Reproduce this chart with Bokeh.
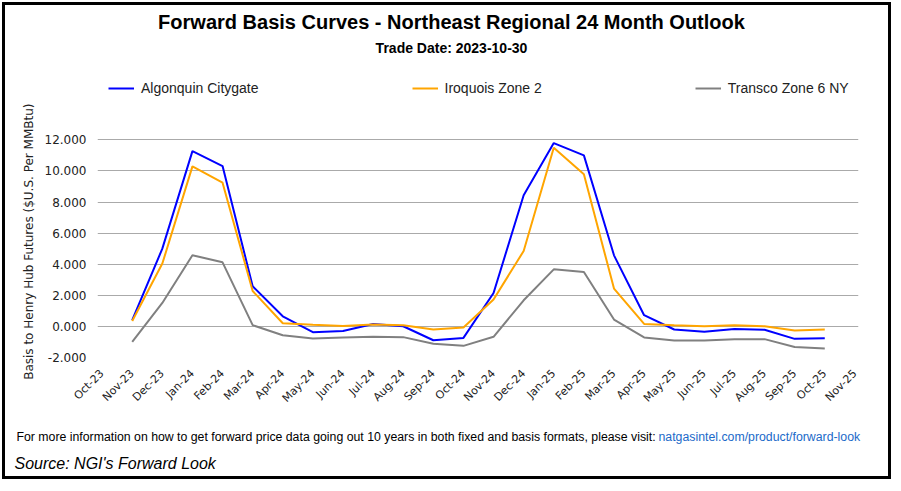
import math
from bokeh.plotting import figure
from bokeh.layouts import column
from bokeh.models import (Label, Legend, LegendItem, Range1d, FixedTicker,
                          PrintfTickFormatter, Title, ColumnDataSource)
from bokeh.embed import file_html
from bokeh.resources import INLINE

months = ["Oct-23", "Nov-23", "Dec-23", "Jan-24", "Feb-24", "Mar-24", "Apr-24",
          "May-24", "Jun-24", "Jul-24", "Aug-24", "Sep-24", "Oct-24", "Nov-24",
          "Dec-24", "Jan-25", "Feb-25", "Mar-25", "Apr-25", "May-25", "Jun-25",
          "Jul-25", "Aug-25", "Sep-25", "Oct-25", "Nov-25"]
# contract months plotted: Nov-23 .. Oct-25
contract_idx = list(range(1, 25))

algonquin = [0.40, 5.00, 11.27, 10.31, 2.58, 0.65, -0.37, -0.29, 0.16, 0.01,
             -0.89, -0.74, 2.15, 8.43, 11.79, 11.00, 4.57, 0.72, -0.20, -0.35,
             -0.16, -0.22, -0.80, -0.76]
iroquois = [0.35, 4.04, 10.29, 9.24, 2.28, 0.20, 0.10, 0.03, 0.12, 0.08,
            -0.20, -0.07, 1.73, 4.85, 11.49, 9.78, 2.43, 0.16, 0.08, 0.01,
            0.08, 0.01, -0.27, -0.20]
transco = [-0.99, 1.51, 4.57, 4.12, 0.08, -0.57, -0.78, -0.71, -0.67, -0.69,
           -1.12, -1.25, -0.67, 1.68, 3.67, 3.50, 0.44, -0.71, -0.91, -0.90,
           -0.82, -0.82, -1.32, -1.42]
series_names = ["Algonquin Citygate", "Iroquois Zone 2", "Transco Zone 6 NY"]
series_colors = ["#0000ff", "#ffa500", "#808080"]
y_ticks = [-2, 0, 2, 4, 6, 8, 10, 12]

title_text = "Forward Basis Curves - Northeast Regional 24 Month Outlook"
subtitle_text = "Trade Date: 2023-10-30"
ylabel_text = "Basis to Henry Hub Futures ($U.S. Per MMBtu)"
footer_text = ("For more information on how to get forward price data going out 10 years "
               "in both fixed and basis formats, please visit: ")
link_text = "natgasintel.com/product/forward-look"
source_text = "Source: NGI's Forward Look"

# ---- layout geometry (canvas pixels) ----
CW = 889
MAIN_H = 414
FOOT_H = 477 - MAIN_H
FL, FR, FB = 92, 853, 352          # frame left / right / bottom (top = 0)
X0, X1 = -0.153, 25.12
Y0 = -2.0
PX_PER_Y = 15.55
Y1 = Y0 + FB / PX_PER_Y
PX_PER_X = (FR - FL) / (X1 - X0)


def xd(cx):
    return X0 + (cx - FL) / PX_PER_X


def yd(cy):
    return Y0 + (FB - cy) / PX_PER_Y


p = figure(width=CW, height=MAIN_H, output_backend="svg", toolbar_location=None,
           x_range=Range1d(X0, X1), y_range=Range1d(Y0, Y1),
           min_border_left=FL, min_border_right=CW - FR, min_border_top=0,
           min_border_bottom=MAIN_H - FB, background_fill_color="white",
           border_fill_color="white")
p.outline_line_color = None

renderers = []
for name, vals, col in zip(series_names, [algonquin, iroquois, transco], series_colors):
    src = ColumnDataSource(dict(x=contract_idx, y=vals))
    r = p.line("x", "y", source=src, line_color=col, line_width=2)
    renderers.append((name, r))

# axes
p.xaxis.ticker = FixedTicker(ticks=list(range(len(months))))
p.xaxis.major_label_overrides = {i: m for i, m in enumerate(months)}
p.xaxis.major_label_orientation = math.pi / 4
p.xaxis.axis_line_color = None
p.xaxis.major_tick_line_color = None
p.xaxis.major_tick_out = 0
p.xaxis.major_tick_in = 0
p.xaxis.minor_tick_line_color = None
p.xaxis.major_label_text_font = "DejaVu Sans"
p.xaxis.major_label_text_font_size = "11px"
p.xaxis.major_label_text_color = "#222222"
p.xaxis.major_label_standoff = 14

p.yaxis.ticker = FixedTicker(ticks=y_ticks)
p.yaxis.formatter = PrintfTickFormatter(format="%.3f")
p.yaxis.axis_line_color = None
p.yaxis.major_tick_line_color = None
p.yaxis.major_tick_out = 0
p.yaxis.major_tick_in = 0
p.yaxis.minor_tick_line_color = None
p.yaxis.major_label_text_font = "DejaVu Sans"
p.yaxis.major_label_text_font_size = "12px"
p.yaxis.major_label_text_color = "#222222"
p.yaxis.major_label_standoff = 11

p.xgrid.grid_line_color = None
p.ygrid.grid_line_color = "#aaaaaa"
p.ygrid.grid_line_width = 1

# y axis title (left panel, anchored at top)
p.add_layout(Title(text=ylabel_text, align="right", offset=98,
                   vertical_align="bottom", standoff=12,
                   text_font="DejaVu Sans", text_font_size="12px",
                   text_font_style="normal", text_color="#222222"), "left")

# legend
legend = Legend(items=[LegendItem(label=n, renderers=[r]) for n, r in renderers],
                orientation="horizontal", location=(11, 261),
                spacing=153, padding=0, margin=0, glyph_width=26, glyph_height=16,
                label_height=16, label_standoff=7, border_line_color=None,
                background_fill_alpha=0, label_text_font="Liberation Sans",
                label_text_font_size="14px", label_text_color="#222222")
p.add_layout(legend, "center")

F = "Liberation Sans"
p.add_layout(Label(x=xd(446), y=yd(16), text=title_text,
                   text_align="center", text_baseline="middle", text_font=F,
                   text_font_size="20px", text_font_style="bold", text_color="black"))
p.add_layout(Label(x=xd(446), y=yd(42), text=subtitle_text,
                   text_align="center", text_baseline="middle", text_font=F,
                   text_font_size="14px", text_font_style="bold", text_color="black"))

# ---- footer figure ----
f = figure(width=CW, height=FOOT_H, output_backend="svg", toolbar_location=None,
           x_range=Range1d(0, CW), y_range=Range1d(0, FOOT_H),
           x_axis_type=None, y_axis_type=None,
           min_border_left=0, min_border_right=0, min_border_top=0, min_border_bottom=0,
           background_fill_color="white", border_fill_color="white")
f.outline_line_color = None
f.add_layout(Label(x=11, y=FOOT_H - (431 - MAIN_H), text=footer_text,
                   text_align="left", text_baseline="middle", text_font=F,
                   text_font_size="12.3px", text_color="black"))
f.add_layout(Label(x=653, y=FOOT_H - (431 - MAIN_H), text=link_text,
                   text_align="left", text_baseline="middle", text_font=F,
                   text_font_size="12.3px", text_color="#1b6ac9"))
f.add_layout(Label(x=9, y=FOOT_H - (458 - MAIN_H), text=source_text,
                   text_align="left", text_baseline="middle", text_font=F,
                   text_font_size="16px", text_font_style="italic", text_color="black"))

for fig in (p, f):
    if "frame_align" in fig.properties():
        fig.frame_align = False

layout = column(p, f, spacing=0)
html = file_html(layout, INLINE)
css = ("<style>html{margin:0;padding:0;}"
       "body{margin:2px;padding:0;width:889px;height:477px;"
       "border:3px solid black;overflow:hidden;}</style>")
html = html.replace("</head>", css + "</head>", 1)
open("out.html", "w").write(html)
